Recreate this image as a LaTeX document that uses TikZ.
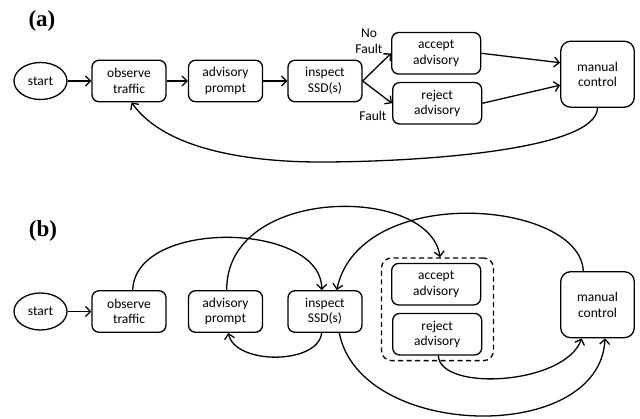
\documentclass[tikz,border=0pt]{standalone}
\usepackage{fontspec}
\setmainfont{Carlito}
\newfontfamily\panelfont{Liberation Serif}
\usetikzlibrary{arrows.meta,shapes.geometric}
\tikzset{
  box/.style={draw, rounded corners=7pt, line width=1.3pt, minimum width=74pt, minimum height=41.5pt,
    align=center, inner sep=0pt, font=\fontsize{13.5}{15.5}\selectfont},
  widebox/.style={box, minimum width=89pt},
  bigbox/.style={box, rounded corners=10pt, minimum width=73.6pt, minimum height=66pt},
  oval/.style={draw, ellipse, line width=1.3pt, minimum width=53pt, minimum height=37pt, inner sep=0pt,
    font=\fontsize{13.5}{15.5}\selectfont},
  conn/.style={line width=1.3pt, -{Straight Barb[length=5pt,width=10pt]}},
  grpbox/.style={draw, dash pattern=on 5pt off 3.5pt, rounded corners=10pt, line width=1.3pt,
    minimum width=112pt, minimum height=102.7pt, inner sep=0pt},
  panel/.style={font=\panelfont\bfseries\fontsize{23}{26}\selectfont, inner sep=0pt},
  lbl/.style={align=center, inner sep=0pt, font=\fontsize{13.5}{15.5}\selectfont},
}
\begin{document}
\begin{tikzpicture}[x=1pt,y=-1pt]
\useasboundingbox (0,0) rectangle (640,419);
% panel (a)
\node[panel] (la) at (42,21) {(a)};
\node[oval] (startA) at (40.5,81) {start};
\node[box] (obsA) at (129,81) {observe\\traffic};
\node[box] (advA) at (225.5,81) {advisory\\prompt};
\node[box] (insA) at (325,81) {inspect\\SSD(s)};
\node[widebox] (accA) at (436.2,53.3) {accept\\advisory};
\node[widebox] (rejA) at (437.2,103.3) {reject\\advisory};
\node[bigbox] (manA) at (597.5,74.2) {manual\\control};
\node[lbl] (nofault) at (369,41) {No\\Fault};
\node[lbl] (fault) at (373,116) {Fault};
\draw[conn] (startA) -- (obsA);
\draw[conn] (obsA) -- (advA);
\draw[conn] (advA) -- (insA);
\draw[conn] (insA.east) -- (accA.west);
\draw[conn] (insA.east) -- (rejA.west);
\draw[conn] (accA.east) -- ([yshift=11.5pt]manA.west);
\draw[conn] (rejA.east) -- ([yshift=-11pt]manA.west);
\coordinate (lowA) at (320,162);
\draw[conn] (manA.south) .. controls (597,150) and (420,162) .. (lowA)
  .. controls (250,162) and (165,150) .. ([xshift=2.5pt]obsA.south);
% panel (b)
\node[panel] (lb) at (43,230.5) {(b)};
\node[oval] (startB) at (40.5,311.5) {start};
\node[box] (obsB) at (129,311.5) {observe\\traffic};
\node[box] (advB) at (225.5,311.5) {advisory\\prompt};
\node[box] (insB) at (325,311.5) {inspect\\SSD(s)};
\node[grpbox] (grp) at (437.5,309.3) {};
\node[widebox] (accB) at (436.2,284.2) {accept\\advisory};
\node[widebox] (rejB) at (437.2,334.2) {reject\\advisory};
\node[bigbox] (manB) at (597.5,304.7) {manual\\control};
\draw[conn] (startB) -- (obsB);
\draw[conn] ([xshift=3.7pt]obsB.north) .. controls (135,218) and (322,222) .. ([xshift=-3.3pt]insB.north);
\draw[conn] ([xshift=1.2pt]advB.north) .. controls (226,185) and (430,185) .. ([xshift=2.5pt]grp.north);
\draw[conn] ([xshift=-14.2pt]manB.north) .. controls (580,200) and (360,182) .. ([xshift=11.7pt]insB.north);
\draw[conn] ([xshift=-3.3pt]insB.south) .. controls (318,365) and (235,365) .. ([xshift=2.8pt]advB.south);
\draw[conn] ([xshift=14.3pt]insB.south) .. controls (360,440) and (600,445) .. ([xshift=7.5pt]manB.south);
\draw[conn] ([xshift=1.1pt]rejB.south) .. controls (440,392) and (565,385) .. ([xshift=-15.8pt]manB.south);
\end{tikzpicture}
\end{document}
